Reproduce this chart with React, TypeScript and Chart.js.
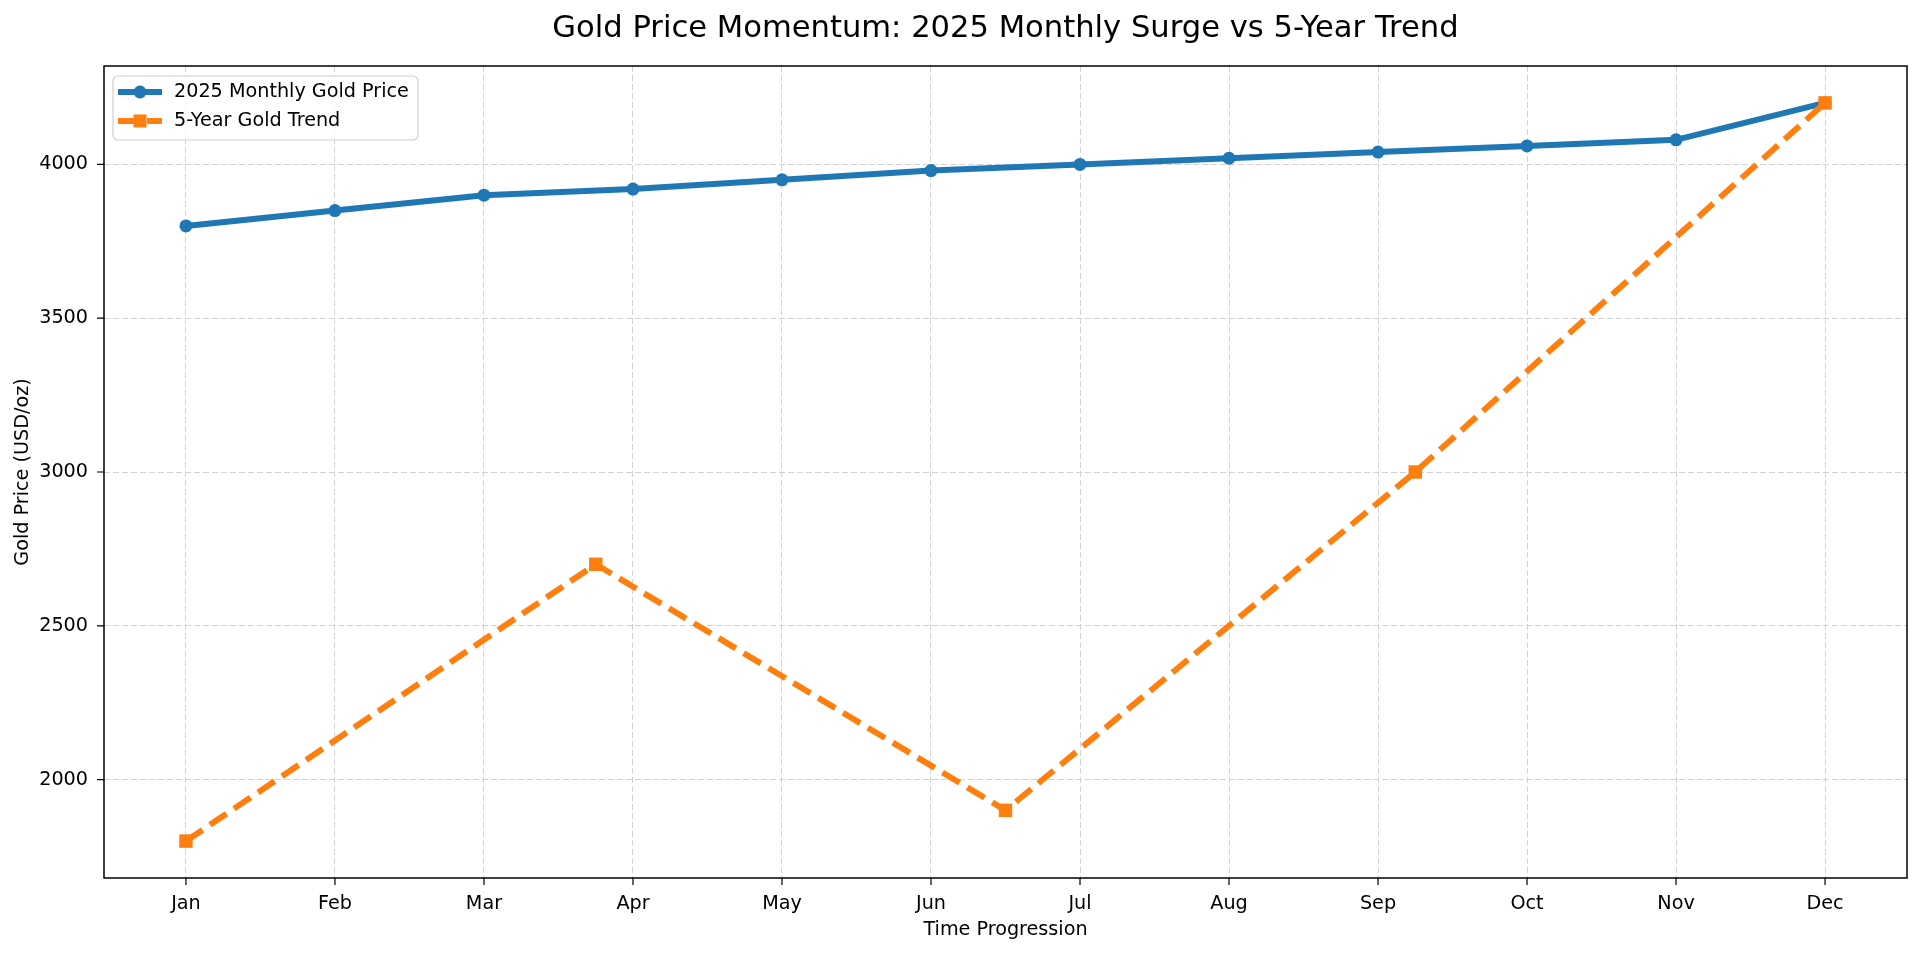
import React, { useEffect, useRef } from "react";
import { Chart, registerables } from "chart.js";

Chart.register(...registerables);

const months = ["Jan", "Feb", "Mar", "Apr", "May", "Jun", "Jul", "Aug", "Sep", "Oct", "Nov", "Dec"];
const monthlyPrice = [3800, 3850, 3900, 3920, 3950, 3980, 4000, 4020, 4040, 4060, 4080, 4200];
const trendPositions = [0, 2.75, 5.5, 8.25, 11];
const trendPrice = [1800, 2700, 1900, 3000, 4200];
const yTicks = [2000, 2500, 3000, 3500, 4000];

const titleText = "Gold Price Momentum: 2025 Monthly Surge vs 5-Year Trend";
const seriesNames = ["2025 Monthly Gold Price", "5-Year Gold Trend"];
const BLUE = "#1f77b4";
const ORANGE = "#ff7f0e";
const FONT = "DejaVu Sans";
const FS = 19.2;

export default function App() {
  const ref = useRef<HTMLCanvasElement | null>(null);

  useEffect(() => {
    document.body.style.margin = "0";
    const canvas = ref.current!;
    const decor = {
      id: "decor",
      afterDatasetsDraw(chart: any) {
        const { ctx, chartArea: a, scales } = chart;
        ctx.save();
        // frame
        ctx.strokeStyle = "#000";
        ctx.lineWidth = 1.5;
        ctx.strokeRect(a.left, a.top, a.right - a.left, a.bottom - a.top);
        // tick marks
        ctx.lineWidth = 1.2;
        ctx.beginPath();
        months.forEach((_, i) => {
          const x = scales.x.getPixelForValue(i);
          ctx.moveTo(x, a.bottom);
          ctx.lineTo(x, a.bottom + 7);
        });
        yTicks.forEach((v) => {
          const y = scales.y.getPixelForValue(v);
          ctx.moveTo(a.left, y);
          ctx.lineTo(a.left - 7, y);
        });
        ctx.stroke();
        // title
        ctx.fillStyle = "#000";
        ctx.font = `30.6px "${FONT}"`;
        ctx.textAlign = "center";
        ctx.textBaseline = "alphabetic";
        ctx.fillText(titleText, (a.left + a.right) / 2, 37);
        // legend
        const lx = a.left + 9, ly = a.top + 10, lw = 305, lh = 64;
        ctx.beginPath();
        ctx.roundRect(lx, ly, lw, lh, 5);
        ctx.fillStyle = "rgba(255,255,255,0.8)";
        ctx.fill();
        ctx.strokeStyle = "#d0d0d0";
        ctx.lineWidth = 1.2;
        ctx.stroke();
        const rows = [ly + 16, ly + 45];
        // row 1
        ctx.strokeStyle = BLUE;
        ctx.lineWidth = 6;
        ctx.setLineDash([]);
        ctx.beginPath();
        ctx.moveTo(lx + 5, rows[0]);
        ctx.lineTo(lx + 49, rows[0]);
        ctx.stroke();
        ctx.fillStyle = BLUE;
        ctx.beginPath();
        ctx.arc(lx + 27, rows[0], 6.5, 0, Math.PI * 2);
        ctx.fill();
        // row 2
        ctx.strokeStyle = ORANGE;
        ctx.setLineDash([20, 9]);
        ctx.beginPath();
        ctx.moveTo(lx + 5, rows[1]);
        ctx.lineTo(lx + 49, rows[1]);
        ctx.stroke();
        ctx.setLineDash([]);
        ctx.fillStyle = ORANGE;
        ctx.fillRect(lx + 27 - 6.5, rows[1] - 6.5, 13, 13);
        ctx.fillStyle = "#000";
        ctx.font = `${FS}px "${FONT}"`;
        ctx.textAlign = "left";
        ctx.textBaseline = "middle";
        ctx.fillText(seriesNames[0], lx + 61, rows[0]);
        ctx.fillText(seriesNames[1], lx + 61, rows[1]);
        ctx.restore();
      },
    };

    const chart = new Chart(canvas, {
      type: "line",
      data: {
        datasets: [
          {
            label: seriesNames[0],
            data: months.map((_, i) => ({ x: i, y: monthlyPrice[i] })),
            borderColor: BLUE,
            backgroundColor: BLUE,
            borderWidth: 6,
            pointRadius: 6.5,
            pointStyle: "circle",
            pointBorderWidth: 0,
            order: 1,
          },
          {
            label: seriesNames[1],
            data: trendPositions.map((x, i) => ({ x, y: trendPrice[i] })),
            borderColor: ORANGE,
            backgroundColor: ORANGE,
            borderWidth: 6,
            borderDash: [20, 9],
            pointRadius: 9.5,
            pointStyle: "rect",
            pointBorderWidth: 0,
            order: 0,
          },
        ],
      },
      plugins: [decor],
      options: {
        animation: false,
        responsive: false,
        devicePixelRatio: 1,
        layout: { padding: { top: 66, right: 13, left: 0, bottom: 0 } },
        plugins: {
          legend: { display: false },
          title: { display: false },
          tooltip: { enabled: false },
        },
        scales: {
          x: {
            type: "linear",
            min: -0.55,
            max: 11.55,
            afterBuildTicks: (s: any) => {
              s.ticks = months.map((_, i) => ({ value: i }));
            },
            afterFit: (s: any) => {
              s.height = 75;
            },
            ticks: {
              callback: (v: any) => months[Math.round(v)] ?? "",
              color: "#000",
              font: { family: FONT, size: FS },
              padding: 14,
              maxRotation: 0,
              autoSkip: false,
            },
            grid: { color: "#d2d2d2", lineWidth: 1, drawTicks: false },
            border: { display: false, dash: [6, 3] },
            title: {
              display: true,
              text: "Time Progression",
              color: "#000",
              font: { family: FONT, size: FS },
              padding: { top: 0, bottom: 11 },
            },
          },
          y: {
            type: "linear",
            min: 1680,
            max: 4320,
            afterBuildTicks: (s: any) => {
              s.ticks = yTicks.map((v) => ({ value: v }));
            },
            afterFit: (s: any) => {
              s.width = 104;
            },
            ticks: {
              callback: (v: any) => String(v),
              color: "#000",
              font: { family: FONT, size: FS },
              padding: 16,
            },
            grid: { color: "#d2d2d2", lineWidth: 1, drawTicks: false },
            border: { display: false, dash: [6, 3] },
            title: {
              display: true,
              text: "Gold Price (USD/oz)",
              color: "#000",
              font: { family: FONT, size: FS },
              padding: { top: 11, bottom: 0 },
            },
          },
        },
      },
    } as any);
    return () => chart.destroy();
  }, []);

  return (
    <div style={{ position: "absolute", left: 0, top: 0, width: 1920, height: 953, background: "#fff" }}>
      <canvas ref={ref} width={1920} height={953} style={{ width: 1920, height: 953, display: "block" }} />
    </div>
  );
}
